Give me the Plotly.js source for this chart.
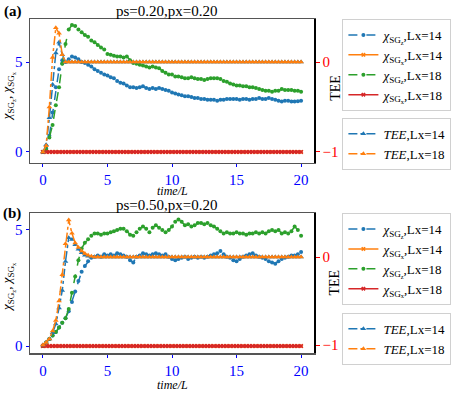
<!DOCTYPE html>
<html>
<head>
<meta charset="utf-8">
<script src="https://cdn.plot.ly/plotly-3.0.1.min.js"></script>
<style>
  html, body { margin: 0; padding: 0; background: white; }
  #plot { width: 463px; height: 393px; }
</style>
</head>
<body>
<div id="plot"></div>
<script>
// time grid (time/L), step 0.25
const time = [
  0, 0.25, 0.5, 0.75, 1, 1.25, 1.5, 1.75, 2, 2.25,
  2.5, 2.75, 3, 3.25, 3.5, 3.75, 4, 4.25, 4.5, 4.75,
  5, 5.25, 5.5, 5.75, 6, 6.25, 6.5, 6.75, 7, 7.25,
  7.5, 7.75, 8, 8.25, 8.5, 8.75, 9, 9.25, 9.5, 9.75,
  10, 10.25, 10.5, 10.75, 11, 11.25, 11.5, 11.75, 12, 12.25,
  12.5, 12.75, 13, 13.25, 13.5, 13.75, 14, 14.25, 14.5, 14.75,
  15, 15.25, 15.5, 15.75, 16, 16.25, 16.5, 16.75, 17, 17.25,
  17.5, 17.75, 18, 18.25, 18.5, 18.75, 19, 19.25, 19.5, 19.75,
  20
];

// chi_SGx is zero for both sizes in both panels
const chiX = [
  0, 0, 0, 0, 0, 0, 0, 0, 0, 0,
  0, 0, 0, 0, 0, 0, 0, 0, 0, 0,
  0, 0, 0, 0, 0, 0, 0, 0, 0, 0,
  0, 0, 0, 0, 0, 0, 0, 0, 0, 0,
  0, 0, 0, 0, 0, 0, 0, 0, 0, 0,
  0, 0, 0, 0, 0, 0, 0, 0, 0, 0,
  0, 0, 0, 0, 0, 0, 0, 0, 0, 0,
  0, 0, 0, 0, 0, 0, 0, 0, 0, 0,
  0
];

// panel (a): ps=0.20, px=0.20
const chiZ14a = [
  0, 0.2, 0.9, 2.2, 3.6, 4.6, 5.1, 5.0, 5.15, 5.3,
  5.25, 5.15, 5.0, 4.95, 4.85, 4.75, 4.6, 4.5, 4.4, 4.3,
  4.25, 4.15, 4.1, 3.95, 3.85, 3.8, 3.7, 3.6, 3.6, 3.55,
  3.6, 3.65, 3.55, 3.5, 3.55, 3.5, 3.55, 3.5, 3.45, 3.4,
  3.3, 3.25, 3.2, 3.15, 3.1, 3.1, 3.05, 3.0, 3.0, 2.95,
  2.95, 2.9, 2.9, 2.9, 2.85, 2.9, 2.9, 2.95, 2.95, 2.95,
  2.95, 2.9, 2.95, 2.95, 2.9, 2.95, 2.95, 3.0, 2.95, 2.95,
  3.0, 2.95, 2.9, 2.85, 2.8, 2.85, 2.85, 2.8, 2.8, 2.82,
  2.85
];
const chiZ18a = [
  0, 0.1, 0.8, 1.5, 2.6, 3.6, 4.9, 6.0, 6.8, 7.05,
  7.0, 6.8, 6.65, 6.5, 6.4, 6.2, 6.1, 5.95, 5.8, 5.7,
  5.45, 5.4, 5.35, 5.3, 5.3, 5.25, 5.3, 5.1, 4.95, 4.9,
  4.85, 4.8, 4.75, 4.7, 4.75, 4.7, 4.65, 4.5, 4.4, 4.3,
  4.3, 4.2, 4.2, 4.15, 4.1, 4.1, 4.15, 4.1, 4.05, 4.05,
  4.0, 4.05, 4.1, 4.1, 4.1, 4.05, 3.95, 3.9, 3.8, 3.75,
  3.7, 3.7, 3.65, 3.65, 3.6, 3.6, 3.55, 3.5, 3.45, 3.4,
  3.4, 3.35, 3.4, 3.4, 3.5, 3.45, 3.45, 3.45, 3.4, 3.4,
  3.35
];
const tee14a = [
  -1, -0.92, -0.62, -0.25, 0.1, 0.22, 0.08, 0, 0, 0,
  0, 0, 0, 0, 0, 0, 0, 0, 0, 0,
  0, 0, 0, 0, 0, 0, 0, 0, 0, 0,
  0, 0, 0, 0, 0, 0, 0, 0, 0, 0,
  0, 0, 0, 0, 0, 0, 0, 0, 0, 0,
  0, 0, 0, 0, 0, 0, 0, 0, 0, 0,
  0, 0, 0, 0, 0, 0, 0, 0, 0, 0,
  0, 0, 0, 0, 0, 0, 0, 0, 0, 0,
  0
];
const tee18a = [
  -1, -0.93, -0.5, 0.05, 0.38, 0.32, 0.08, 0, 0, 0,
  0, 0, 0, 0, 0, 0, 0, 0, 0, 0,
  0, 0, 0, 0, 0, 0, 0, 0, 0, 0,
  0, 0, 0, 0, 0, 0, 0, 0, 0, 0,
  0, 0, 0, 0, 0, 0, 0, 0, 0, 0,
  0, 0, 0, 0, 0, 0, 0, 0, 0, 0,
  0, 0, 0, 0, 0, 0, 0, 0, 0, 0,
  0, 0, 0, 0, 0, 0, 0, 0, 0, 0,
  0
];

// panel (b): ps=0.50, px=0.20
const chiZ14b = [
  0, 0.15, 0.3, 0.45, 0.6, 0.8, 1.0, 1.2, 1.5, 1.9,
  2.35, 2.8, 3.2, 3.45, 3.65, 3.8, 3.85, 3.9, 3.85, 3.95,
  3.9, 3.95, 3.9, 4.0, 3.95, 3.9, 3.85, 3.7, 3.6, 3.85,
  3.9, 4.0, 3.95, 3.9, 3.95, 4.0, 3.95, 3.9, 3.95, 3.85,
  3.75, 3.7, 3.75, 3.8, 3.85, 3.75, 3.8, 3.85, 3.8, 3.85,
  3.8, 3.85, 3.9, 3.95, 4.0, 4.1, 3.95, 3.85, 3.8, 3.7,
  3.65, 3.75, 3.85, 3.9, 3.95, 4.0, 3.9, 3.85, 3.8, 3.75,
  3.65, 3.6, 3.55, 3.65, 3.75, 3.8, 3.85, 3.9, 3.9, 3.95,
  4.05
];
const chiZ18b = [
  0, 0.15, 0.3, 0.45, 0.6, 0.8, 1.0, 1.2, 1.6, 2.3,
  3.0, 3.7, 4.2, 4.45, 4.6, 4.75, 4.85, 4.85, 4.8, 4.85,
  4.85, 4.9, 4.95, 5.0, 5.05, 5.05, 4.95, 4.8, 4.75, 4.9,
  5.05, 5.15, 5.05, 4.9, 5.1, 5.2, 5.1, 5.0, 4.9, 5.0,
  5.15, 5.35, 5.45, 5.35, 5.2, 5.25, 5.15, 5.2, 5.3, 5.3,
  5.25, 5.3, 5.2, 5.15, 5.05, 4.95, 4.85, 4.9, 4.85, 4.85,
  4.9, 4.85, 4.85, 4.8, 4.85, 4.85, 4.9, 4.85, 4.9, 4.85,
  4.95, 5.0, 4.95, 5.0, 4.85, 4.9, 4.85, 4.95, 5.15, 5.0,
  4.75
];
const tee14b = [
  -1, -0.97, -0.93, -0.86, -0.76, -0.58, -0.38, -0.05, 0.22, 0.2,
  0.14, 0.09, 0.05, 0.02, 0.01, 0, 0, 0, 0, 0,
  0, 0, 0, 0, 0, 0, 0, 0, 0, 0,
  0, 0, 0, 0, 0, 0, 0, 0, 0, 0,
  0, 0, 0, 0, 0, 0, 0, 0, 0, 0,
  0, 0, 0, 0, 0, 0, 0, 0, 0, 0,
  0, 0, 0, 0, 0, 0, 0, 0, 0, 0,
  0, 0, 0, 0, 0, 0, 0, 0, 0, 0,
  0
];
const tee18b = [
  -1, -0.97, -0.93, -0.84, -0.72, -0.5, -0.2, 0.15, 0.42, 0.27,
  0.16, 0.11, 0.07, 0.04, 0.02, 0.01, 0, 0, 0, 0,
  0, 0, 0, 0, 0, 0, 0, 0, 0, 0,
  0, 0, 0, 0, 0, 0, 0, 0, 0, 0,
  0, 0, 0, 0, 0, 0, 0, 0, 0, 0,
  0, 0, 0, 0, 0, 0, 0, 0, 0, 0,
  0, 0, 0, 0, 0, 0, 0, 0, 0, 0,
  0, 0, 0, 0, 0, 0, 0, 0, 0, 0,
  0
];

const panelTitles = ['ps=0.20,px=0.20', 'ps=0.50,px=0.20'];
const panelLabels = ['(a)', '(b)'];

const C = { blue: '#1f77b4', orange: '#ff7f0e', green: '#2ca02c', red: '#d62728' };
const SERIF = '"Liberation Serif", "DejaVu Serif", serif';
const chiName = s => `<i>χ</i><sub>SG<sub>${s}</sub></sub>`;

function panelTraces(chiZ14, chiZ18, tee14, tee18, xa, ya, ya2, leg1, leg2) {
  const chiZ = (y, color, name) => ({
    x: time, y: y, xaxis: xa, yaxis: ya, legend: leg1, name: name,
    mode: 'lines+markers', type: 'scatter',
    line: { color: color, width: 1.5, dash: 'dash' },
    marker: { color: color, size: 4, symbol: 'circle' }
  });
  const chiXt = (color, name) => ({
    x: time, y: chiX, xaxis: xa, yaxis: ya, legend: leg1, name: name,
    mode: 'lines+markers', type: 'scatter',
    line: { color: color, width: 1.5 },
    marker: { color: color, size: 4, symbol: 'x' }
  });
  const tee = (y, color, name) => ({
    x: time, y: y, xaxis: xa, yaxis: ya2, legend: leg2, name: name,
    mode: 'lines+markers', type: 'scatter',
    line: { color: color, width: 1.5, dash: 'dashdot' },
    marker: { color: color, size: 5, symbol: 'triangle-up' }
  });
  return [
    chiZ(chiZ14, C.blue, chiName('z') + ',Lx=14'),
    chiXt(C.orange, chiName('x') + ',Lx=14'),
    chiZ(chiZ18, C.green, chiName('z') + ',Lx=18'),
    chiXt(C.red, chiName('x') + ',Lx=18'),
    tee(tee14, C.blue, '<i>TEE</i>,Lx=14'),
    tee(tee18, C.orange, '<i>TEE</i>,Lx=18')
  ];
}

const traces = [
  ...panelTraces(chiZ14a, chiZ18a, tee14a, tee18a, 'x', 'y', 'y2', 'legend', 'legend2'),
  ...panelTraces(chiZ14b, chiZ18b, tee14b, tee18b, 'x2', 'y3', 'y4', 'legend3', 'legend4')
];

const frame = '#555';
const xax = anchor => ({
  domain: [0, 1], anchor: anchor, range: [-1, 21], tickvals: [0, 5, 10, 15, 20],
  tickfont: { family: SERIF, size: 15, color: 'blue' },
  ticks: 'outside', ticklen: 3, tickcolor: 'blue',
  showline: true, mirror: true, linecolor: frame, linewidth: 1.5,
  showgrid: false, zeroline: false
});
const yLeft = (domain, anchor, range) => ({
  domain: domain, anchor: anchor, range: range, tickvals: [0, 5],
  tickfont: { family: SERIF, size: 15, color: 'blue' },
  ticks: 'outside', ticklen: 3, tickcolor: 'blue',
  showline: true, mirror: true, linecolor: frame, linewidth: 1.5,
  showgrid: false, zeroline: false
});
const yRight = (over, anchor, range) => ({
  overlaying: over, anchor: anchor, side: 'right', range: range, tickvals: [-1, 0],
  tickfont: { family: SERIF, size: 15, color: 'red' },
  ticks: 'outside', ticklen: 4, tickcolor: 'red',
  showline: true, linecolor: 'black', linewidth: 1.5,
  showgrid: false, zeroline: false
});
const legendBox = y => ({
  x: 1.10, y: y, xanchor: 'left', yanchor: 'top',
  bgcolor: 'white', bordercolor: '#d0d0d0', borderwidth: 1,
  font: { family: SERIF, size: 13, color: 'black' }
});
const note = (text, x, y, extra) => Object.assign({
  text: text, xref: 'paper', yref: 'paper', x: x, y: y,
  xanchor: 'center', yanchor: 'middle', showarrow: false,
  font: { family: SERIF, size: 13, color: 'black' }
}, extra || {});

const layout = {
  width: 463, height: 393,
  margin: { l: 30, r: 146, t: 19, b: 40 },
  paper_bgcolor: 'white', plot_bgcolor: 'white',
  font: { family: SERIF },
  showlegend: true,
  xaxis: xax('y'),
  yaxis: yLeft([0.569, 1], 'x', [-0.61, 7.39]),
  yaxis2: yRight('y', 'x', [-1.122, 0.478]),
  xaxis2: xax('y3'),
  yaxis3: yLeft([0, 0.419], 'x2', [-0.3, 5.73]),
  yaxis4: yRight('y3', 'x2', [-1.09, 0.5]),
  legend: legendBox(1.0),
  legend2: legendBox(0.704),
  legend3: legendBox(0.419),
  legend4: legendBox(0.12),
  annotations: [
    note(panelTitles[0], 0.481, 1.024, { font: { family: SERIF, size: 15, color: 'black' } }),
    note(panelTitles[1], 0.481, 0.443, { font: { family: SERIF, size: 15, color: 'black' } }),
    note('<b>' + panelLabels[0] + '</b>', -0.059, 1.021, { font: { family: SERIF, size: 15, color: 'black' } }),
    note('<b>' + panelLabels[1] + '</b>', -0.065, 0.419, { font: { family: SERIF, size: 15, color: 'black' } }),
    // x titles
    note('<i>time/L</i>', 0.5, 0.486, { font: { family: SERIF, size: 12, color: 'black' } }),
    note('<i>time/L</i>', 0.5, -0.095, { font: { family: SERIF, size: 12, color: 'black' } }),
    // left y titles
    note(chiName('z') + ', ' + chiName('x'), -0.077, 0.769, { textangle: -90, font: { family: SERIF, size: 13, color: 'black' } }),
    note(chiName('z') + ', ' + chiName('x'), -0.077, 0.198, { textangle: -90, font: { family: SERIF, size: 13, color: 'black' } }),
    // right y titles
    note('TEE', 1.073, 0.793, { textangle: -90, font: { family: SERIF, size: 14, color: 'black' } }),
    note('TEE', 1.073, 0.21, { textangle: -90, font: { family: SERIF, size: 14, color: 'black' } })
  ]
};

Plotly.newPlot('plot', traces, layout, { displayModeBar: false, staticPlot: true });
</script>
</body>
</html>
